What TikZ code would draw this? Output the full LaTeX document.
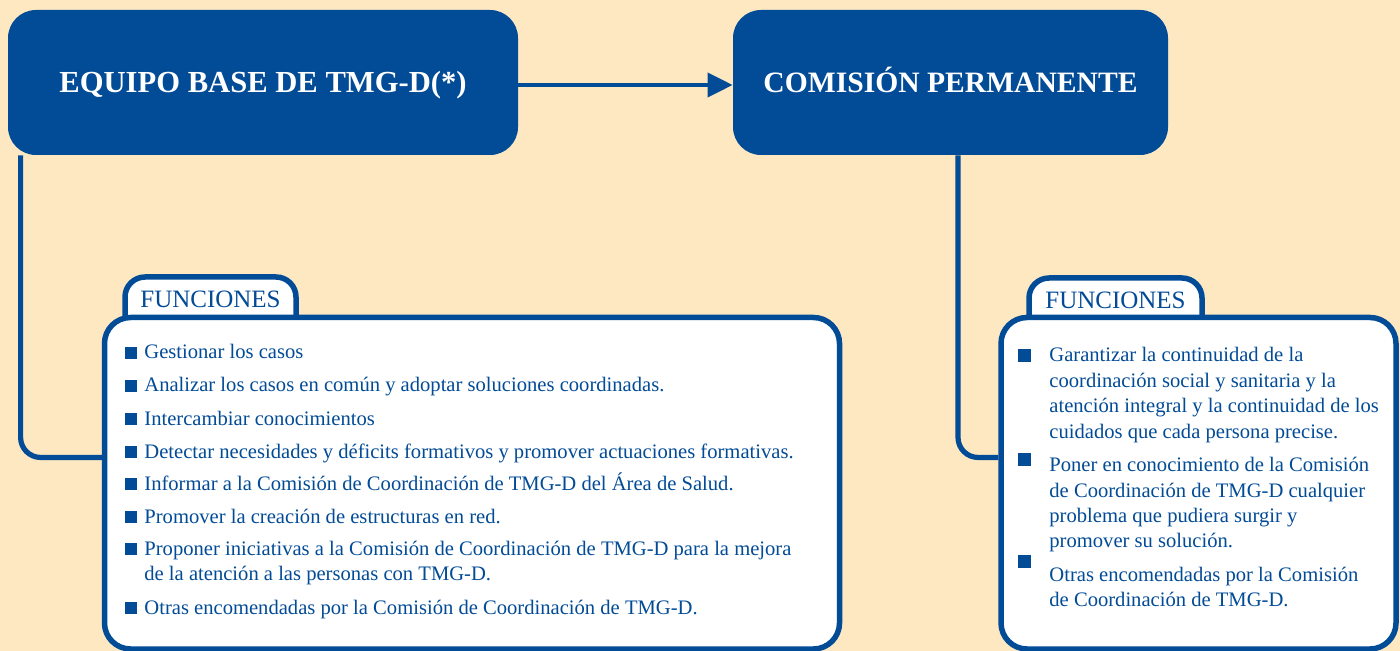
\documentclass[tikz,border=0pt]{standalone}
\usepackage{fontspec}
\setmainfont{Liberation Serif}
\usetikzlibrary{arrows.meta}
\definecolor{bblue}{RGB}{2,75,150}
\definecolor{cream}{RGB}{253,232,193}
\begin{document}
\begin{tikzpicture}[x=0.5pt,y=-0.5pt,
  topbox/.style={fill=bblue, draw=none, rounded corners=14pt, text=white,
    font=\fontsize{15.3}{18}\selectfont\bfseries, text height=10pt, text depth=0pt, inner sep=0pt},
  funcbox/.style={draw=bblue, fill=white, line width=2.75pt, rounded corners=13pt, inner sep=0pt},
  tabshape/.style={draw=bblue, fill=white, line width=2.75pt, rounded corners=10pt},
  tablabel/.style={text=bblue, font=\fontsize{12.5}{15}\selectfont, inner sep=0pt, anchor=base},
  conn/.style={draw=bblue, line width=2.6pt, rounded corners=10pt},
  arrowline/.style={draw=bblue, line width=2pt, -{Triangle[length=12.5pt,width=12pt]}},
  item/.style={text=bblue, font=\fontsize{10.3}{12.5}\selectfont, inner sep=0pt, anchor=base west},
  sq/.style={fill=bblue, inner sep=0pt, minimum size=6pt, anchor=south west},
]
\fill[cream] (0,0) rectangle (1400,651);
\useasboundingbox (0,0) rectangle (1400,651);

% top boxes
\node[topbox, minimum width=255pt, minimum height=72.5pt] (eq) at (263,82.5) {EQUIPO BASE DE TMG-D(*)};
\node[topbox, minimum width=217.5pt, minimum height=72.5pt, font=\fontsize{14.8}{18}\selectfont\bfseries] (cp) at (950.5,82.5) {COMISIÓN PERMANENTE};
\draw[arrowline] ([yshift=-1.25pt]eq.east) -- ([yshift=-1.25pt]cp.west);

% tabs
\draw[tabshape] (125,330) -- (125,277) -- (296,277) -- (296,330);
\draw[tabshape] (1029,330) -- (1029,278) -- (1202,278) -- (1202,330);

% function boxes
\node[funcbox, minimum width=367.5pt, minimum height=165.75pt] (lb) at (472,483.25) {};
\node[funcbox, minimum width=197.5pt, minimum height=165.75pt] (rb) at (1198.5,483.25) {};

\node[tablabel] (tl) at (210.5,308) {FUNCIONES};
\node[tablabel] (tr) at (1115.5,309) {FUNCIONES};

% connectors
\draw[conn] ([xshift=6.5pt]eq.south west) |- ([yshift=12.9pt]lb.west);
\draw[conn] ([xshift=3.75pt]cp.south) |- ([yshift=12.9pt]rb.west);

% left items
\node[sq] (bl1) at (125,359) {};
\node[sq] (bl2) at (125,392) {};
\node[sq] (bl3) at (125,425) {};
\node[sq] (bl4) at (125,458) {};
\node[sq] (bl5) at (125,490) {};
\node[sq] (bl6) at (125,523) {};
\node[sq] (bl7) at (125,555) {};
\node[sq] (bl8) at (125,614) {};
\node[item] (ll1) at (144,359) {Gestionar los casos};
\node[item] (ll2) at (144,392) {Analizar los casos en común y adoptar soluciones coordinadas.};
\node[item] (ll3) at (144,425) {Intercambiar conocimientos};
\node[item] (ll4) at (144,458) {Detectar necesidades y déficits formativos y promover actuaciones formativas.};
\node[item] (ll5) at (144,490) {Informar a la Comisión de Coordinación de TMG-D del Área de Salud.};
\node[item] (ll6) at (144,523) {Promover la creación de estructuras en red.};
\node[item] (ll7) at (144,555) {Proponer iniciativas a la Comisión de Coordinación de TMG-D para la mejora};
\node[item] (ll7b) at (144,580) {de la atención a las personas con TMG-D.};
\node[item] (ll8) at (144,614) {Otras encomendadas por la Comisión de Coordinación de TMG-D.};

% right items
\node[sq, minimum size=6.25pt] (br1) at (1018,362) {};
\node[sq, minimum size=6.25pt] (br2) at (1018,466) {};
\node[sq, minimum size=6.25pt] (br3) at (1018,568) {};
\node[item] (rl1) at (1049,362) {Garantizar la continuidad de la};
\node[item] (rl2) at (1049,387) {coordinación social y sanitaria y la};
\node[item] (rl3) at (1049,412) {atención integral y la continuidad de los};
\node[item] (rl4) at (1049,438) {cuidados que cada persona precise.};
\node[item] (rl5) at (1049,471) {Poner en conocimiento de la Comisión};
\node[item] (rl6) at (1049,497) {de Coordinación de TMG-D cualquier};
\node[item] (rl7) at (1049,522) {problema que pudiera surgir y};
\node[item] (rl8) at (1049,547) {promover su solución.};
\node[item] (rl9) at (1049,581) {Otras encomendadas por la Comisión};
\node[item] (rl10) at (1049,606) {de Coordinación de TMG-D.};
\end{tikzpicture}
\end{document}
